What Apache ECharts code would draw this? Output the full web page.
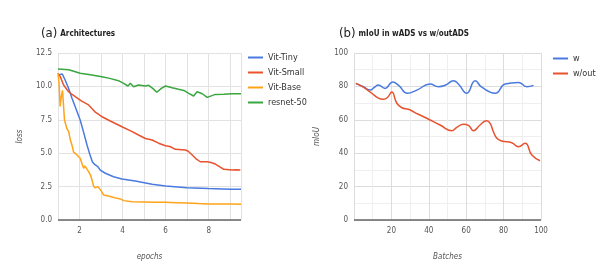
<!DOCTYPE html>
<html>
<head>
<meta charset="utf-8">
<script src="https://cdn.jsdelivr.net/npm/echarts@6/dist/echarts.min.js"></script>
<style>html,body{margin:0;padding:0;background:#fff}#c{width:599px;height:273px}</style>
</head>
<body>
<div id="c"></div>
<script>
// ---- Panel (a): Architectures (loss vs epochs)
const tinyX = [1.0,1.1,1.2,1.33,1.49,1.65,1.8,2.03,2.2,2.35,2.5,2.6,2.73,2.85,2.96,3.2,3.58,3.97,4.59,5.37,6.0,7.0,8.0,9.0,9.5];
const tinyY = [10.8,10.9,10.93,10.48,9.86,9.11,8.48,7.49,6.5,5.6,4.8,4.35,4.12,4.0,3.74,3.5,3.24,3.07,2.92,2.67,2.55,2.42,2.35,2.31,2.3];
const smallX = [1.0,1.1,1.26,1.49,1.8,2.1,2.42,2.75,3.04,3.43,3.97,4.4,4.74,5.06,5.37,5.67,5.99,6.2,6.45,6.92,7.05,7.15,7.4,7.61,7.93,8.1,8.31,8.5,8.7,9.09,9.3,9.47];
const smallY = [10.98,10.75,10.1,9.6,9.23,8.9,8.61,8.05,7.73,7.41,6.98,6.65,6.36,6.1,5.99,5.75,5.56,5.5,5.29,5.24,5.15,4.99,4.6,4.36,4.36,4.3,4.19,4.0,3.79,3.74,3.76,3.74];
const baseX = [1.0,1.05,1.1,1.15,1.21,1.3,1.41,1.5,1.57,1.65,1.72,1.8,1.88,1.95,2.03,2.12,2.19,2.25,2.3,2.42,2.5,2.58,2.65,2.73,2.85,2.93,3.0,3.12,3.35,3.55,3.74,3.9,4.05,4.44,5.0,5.5,6.0,6.5,7.0,7.5,8.0,8.5,9.0,9.5];
const baseY = [11.0,10.2,8.5,9.2,9.7,7.5,6.85,6.6,6.0,5.6,5.1,5.2,4.87,4.95,4.62,4.2,3.87,4.05,3.99,3.62,3.4,3.0,2.55,2.4,2.5,2.42,2.2,1.87,1.8,1.7,1.62,1.58,1.45,1.37,1.35,1.33,1.32,1.3,1.28,1.23,1.2,1.2,1.19,1.17];
const resX = [1.0,1.5,2.03,2.5,3.04,3.4,3.81,4.05,4.25,4.36,4.51,4.74,5.06,5.21,5.4,5.59,5.8,5.99,6.3,6.6,6.85,7.07,7.3,7.46,7.7,7.93,8.31,8.7,9.1,9.5];
const resY = [11.3,11.25,10.98,10.88,10.73,10.6,10.43,10.23,10.03,10.23,9.98,10.1,10.03,10.08,9.85,9.56,9.85,10.03,9.9,9.78,9.7,9.48,9.28,9.6,9.45,9.18,9.4,9.42,9.45,9.45];
const namesA = ['Vit-Tiny','Vit-Small','Vit-Base','resnet-50'];
const lossTicks = [0, 2.5, 5, 7.5, 10, 12.5];

// ---- Panel (b): mIoU in wADS vs w/outADS
const wX = [1,5,8.6,11,13,16.6,20.7,23.7,28.6,33.6,40.7,45.1,49,53.2,55.8,60.3,64.8,68.3,75.5,80.8,87.9,92.4,96];
const wY = [81.8,79.8,77.8,79.5,80.8,78.8,82.6,80.8,75.9,77.8,81.4,79.8,80.8,83.4,81.4,75.9,83.4,79.5,75.9,81.4,82.4,79.8,80.6];
const woutX = [1,5,9.5,13,15.7,18,20.2,22.9,25.6,29.1,34.4,38.9,46,52.3,55,58.5,61.2,63.9,67.4,71,72.8,74.5,76.4,79,84.4,87.9,91.5,95.1,99.5];
const woutY = [81.8,79.5,75.9,73,72.3,73.5,76.6,69.9,67.2,66.3,63.3,60.9,56.9,53.5,55.5,57.3,56.7,53.5,56.9,59.5,57.9,53,48.9,47.3,46.3,43.9,45.9,38.9,35.5];
const namesB = ['w','w/out'];

const FONT = "'Liberation Sans Narrow','DejaVu Sans Condensed',sans-serif";
const C = {blue:'#4a7ae0', red:'#e8532f', orange:'#ffa31a', green:'#3aa63f'};
const zip = (xs, ys) => xs.map((x,i)=>[x, ys[i]]);

const chart = echarts.init(document.getElementById('c'), null, {renderer:'canvas'});
const axisLbl = {color:'#555', fontSize:8, fontFamily:FONT};
const nameStyle = {color:'#555', fontSize:8, fontStyle:'italic', fontFamily:FONT};

function line(name, data, color, xi, smooth) {
  return {name, type:'line', xAxisIndex:xi, yAxisIndex:xi, data, showSymbol:false, symbol:'none',
    smooth: smooth, lineStyle:{color, width:1.5}, itemStyle:{color}, animation:false};
}
const richT = {
  p:{fontSize:13, fontWeight:'normal', color:'#222', fontFamily:FONT},
  t:{fontSize:8, fontWeight:'bold', color:'#222', fontFamily:FONT, padding:[0,0,0,3]}
};

chart.setOption({
  animation:false,
  title:[
    {text:'{p|(a)}{t|Architectures}', left:36, top:22, textStyle:{rich:richT}},
    {text:'{p|(b)}{t|mIoU in wADS vs w/outADS}', left:334, top:22, textStyle:{rich:richT}}
  ],
  legend:[
    {data:namesA, orient:'vertical', left:243, top:48, icon:'rect', itemWidth:15, itemHeight:2, itemGap:6,
     textStyle:{color:'#333', fontSize:9, fontFamily:FONT}},
    {data:namesB, orient:'vertical', left:548, top:49, icon:'rect', itemWidth:15, itemHeight:2, itemGap:6,
     textStyle:{color:'#333', fontSize:9, fontFamily:FONT}}
  ],
  grid:[
    {left:58, top:53, width:183, height:167},
    {left:354, top:53, width:187, height:167}
  ],
  xAxis:[
    {type:'value', gridIndex:0, min:1, max:9.5, interval:1, name:'epochs', nameLocation:'middle', nameGap:33,
     nameTextStyle:nameStyle,
     axisLabel:Object.assign({margin:7, formatter:v => (v%2===0 ? String(v) : '')}, axisLbl),
     axisTick:{show:false}, axisLine:{show:false},
     splitLine:{show:true, lineStyle:{color:'#e2e2e2', width:1}}},
    {type:'value', gridIndex:1, min:0, max:100, interval:20, name:'Batches', nameLocation:'middle', nameGap:33,
     nameTextStyle:nameStyle,
     axisLabel:Object.assign({margin:7, formatter:v => (v===0 ? '' : String(v))}, axisLbl),
     axisTick:{show:false}, axisLine:{show:false},
     splitLine:{show:true, lineStyle:{color:'#dcdcdc', width:1}},
     minorTick:{show:false, splitNumber:2},
     minorSplitLine:{show:true, lineStyle:{color:'#efefef', width:1}}}
  ],
  yAxis:[
    {type:'value', gridIndex:0, min:lossTicks[0], max:lossTicks[lossTicks.length-1], interval:2.5, name:'loss',
     nameLocation:'middle', nameGap:34, nameTextStyle:nameStyle,
     axisLabel:Object.assign({margin:6, formatter:v => v.toFixed(1)}, axisLbl),
     axisTick:{show:false}, axisLine:{show:false},
     splitLine:{show:true, lineStyle:{color:'#e2e2e2', width:1}}},
    {type:'value', gridIndex:1, min:0, max:100, interval:20, name:'mIoU',
     nameLocation:'middle', nameGap:33, nameTextStyle:nameStyle,
     axisLabel:Object.assign({margin:6}, axisLbl),
     axisTick:{show:false}, axisLine:{show:false},
     splitLine:{show:true, lineStyle:{color:'#dcdcdc', width:1}},
     minorTick:{show:false, splitNumber:2},
     minorSplitLine:{show:true, lineStyle:{color:'#efefef', width:1}}}
  ],
  series:[
    line(namesA[0], zip(tinyX, tinyY), C.blue, 0, false),
    line(namesA[1], zip(smallX, smallY), C.red, 0, false),
    line(namesA[2], zip(baseX, baseY), C.orange, 0, false),
    line(namesA[3], zip(resX, resY), C.green, 0, false),
    line(namesB[0], zip(wX, wY), C.blue, 1, 0.5),
    line(namesB[1], zip(woutX, woutY), C.red, 1, 0.5),
    {type:'line', xAxisIndex:0, yAxisIndex:0, data:[], silent:true,
     markLine:{symbol:'none', silent:true, label:{show:false}, lineStyle:{color:'#666', width:1.5, type:'solid'}, data:[{yAxis:0}]}},
    {type:'line', xAxisIndex:1, yAxisIndex:1, data:[], silent:true,
     markLine:{symbol:'none', silent:true, label:{show:false}, lineStyle:{color:'#666', width:1.5, type:'solid'}, data:[{yAxis:0}]}}
  ]
});
</script>
</body>
</html>
